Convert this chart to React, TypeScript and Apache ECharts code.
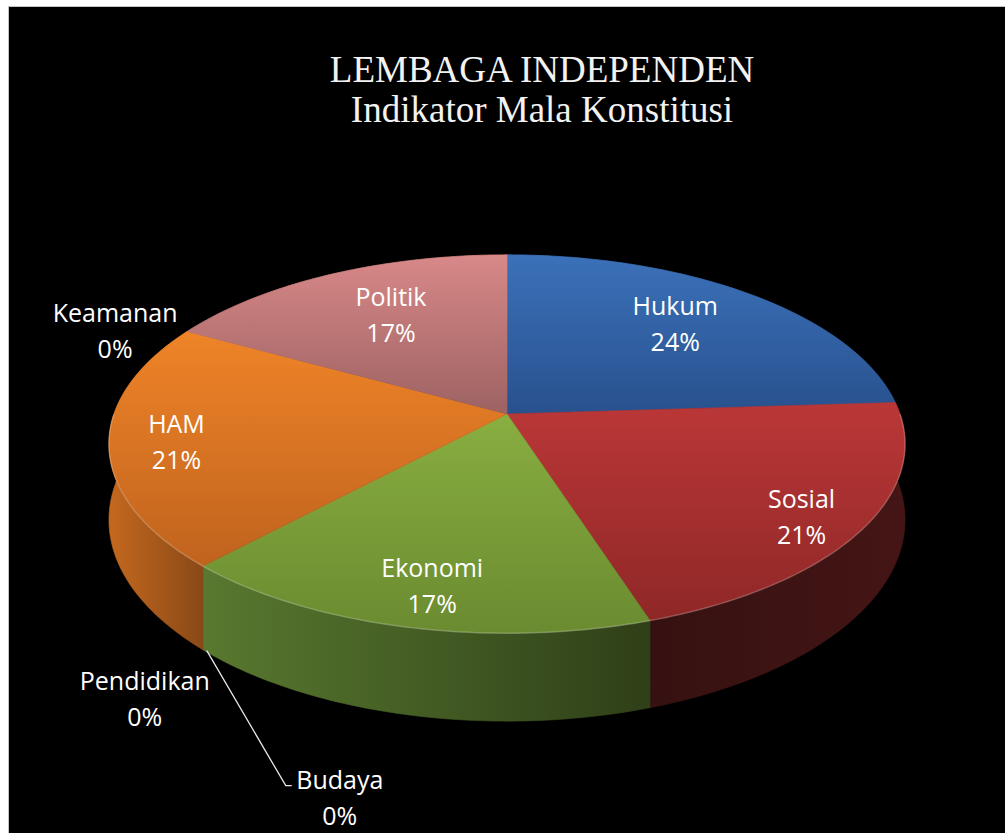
import React, { useEffect, useRef } from "react";
import * as echarts from "echarts";

// ---- data ----
const categories = ["Hukum", "Sosial", "Ekonomi", "Pendidikan", "Budaya", "HAM", "Keamanan", "Politik"];
const values = [24, 21, 17, 0, 0, 21, 0, 17];
const titleLines = ["LEMBAGA INDEPENDEN", "Indikator Mala Konstitusi"];

// ---- styles ----
const topPalette: string[][] = [
  ["#3b71b9", "#28518e"],
  ["#bb3737", "#8f2727"],
  ["#89ae41", "#6a8b30"],
  ["#888888", "#666666"],
  ["#888888", "#666666"],
  ["#ef8428", "#c0631e"],
  ["#888888", "#666666"],
  ["#d88888", "#9d6262"],
];
const wallPalette: string[][] = [
  ["#1f3c66", "#1a3354"],
  ["#361111", "#451515"],
  ["#58792f", "#2f3f18"],
  ["#555555", "#444444"],
  ["#555555", "#444444"],
  ["#c4681f", "#8a4916"],
  ["#555555", "#444444"],
  ["#6a4242", "#5a3636"],
];

const LABEL_FONT = "'Open Sans', 'Noto Sans', sans-serif";

// projection of the tilted disc (perspective)
const CX = 507;
const Y0 = 414;
const AX = 393;
const BY = -118.7;
const G = 0.1587;
const DEPTH = 74;

function proj(phi: number, r: number, drop: number): number[] {
  const u = r * Math.sin(phi);
  const v = r * Math.cos(phi);
  const d = 1 + G * v;
  return [CX + (AX * u) / d, (Y0 + BY * v + drop) / d];
}

function arc(a0: number, a1: number, r: number, drop: number): number[][] {
  const n = Math.max(2, Math.ceil((a1 - a0) / (Math.PI / 180)));
  const pts: number[][] = [];
  for (let i = 0; i <= n; i++) pts.push(proj(a0 + ((a1 - a0) * i) / n, r, drop));
  return pts;
}

export default function App() {
  const ref = useRef<HTMLDivElement>(null);

  useEffect(() => {
    if (!ref.current) return;
    const chart = echarts.init(ref.current, undefined, { renderer: "svg" });

    const total = values.reduce((a, b) => a + b, 0);
    const starts: number[] = [];
    let acc = 0;
    values.forEach((v) => {
      starts.push(acc);
      acc += v;
    });
    const ang = (x: number) => (x / total) * Math.PI * 2;

    const data = values.map((v, i) => ({ name: categories[i], value: v }));

    const wallItem = (params: any, api: any) => {
      const i = params.dataIndex;
      const val = api.value(0) as number;
      if (!val) return { type: "group", children: [] };
      const a0 = ang(starts[i]);
      const a1 = ang(starts[i] + val);
      const top = arc(a0, a1, 1, 0);
      const bot = arc(a0, a1, 1, DEPTH).reverse();
      const c = wallPalette[i];
      const grad = new echarts.graphic.LinearGradient(0, 0, 1, 0, [
        { offset: 0, color: c[0] },
        { offset: 1, color: c[1] },
      ]);
      return {
        type: "polygon",
        shape: { points: top.concat(bot) },
        style: { fill: grad, stroke: grad, lineWidth: 0.6 },
      };
    };

    const topItem = (params: any, api: any) => {
      const i = params.dataIndex;
      const val = api.value(0) as number;
      const name = categories[i];
      const pct = Math.round((val / total) * 100);
      const labelText = name + "\n" + pct + "%";
      const textStyle = {
        text: labelText,
        fill: "#ffffff",
        fontSize: 25,
        fontFamily: LABEL_FONT,
        align: "center",
        verticalAlign: "middle",
        lineHeight: 36,
      };
      const a0 = ang(starts[i]);
      if (!val) {
        let k = 0;
        for (let j = i - 1; j >= 0 && values[j] === 0 && starts[j] === starts[i]; j--) k++;
        const back = Math.cos(a0) >= 0;
        const children: any[] = [];
        if (back) {
          const p = proj(a0, 1, 0);
          children.push({ type: "text", x: p[0] - 72, y: p[1] - 1, z2: 100, style: textStyle });
        } else {
          const p = proj(a0, 1, DEPTH);
          if (k === 0) {
            children.push({ type: "text", x: p[0] - 58, y: p[1] + 48, z2: 100, style: textStyle });
          } else {
            children.push({
              type: "polyline",
              z2: 99,
              shape: {
                points: [
                  [p[0] + 4, p[1] + 1],
                  [p[0] + 83, p[1] + 136],
                  [p[0] + 89, p[1] + 136],
                ],
              },
              style: { stroke: "#e8e8e8", lineWidth: 1.3, fill: null },
            });
            children.push({ type: "text", x: p[0] + 137, y: p[1] + 147, z2: 100, style: textStyle });
          }
        }
        return { type: "group", children };
      }
      const a1 = ang(starts[i] + val);
      const pts = [[CX, Y0]].concat(arc(a0, a1, 1, 0));
      const c = topPalette[i];
      const grad = new echarts.graphic.LinearGradient(0, 0, 0, 1, [
        { offset: 0, color: c[0] },
        { offset: 1, color: c[1] },
      ]);
      const children: any[] = [
        {
          type: "polygon",
          shape: { points: pts },
          style: { fill: grad, stroke: grad, lineWidth: 0.6 },
        },
      ];
      const f0 = Math.max(a0, Math.PI / 2);
      const f1 = Math.min(a1, (Math.PI * 3) / 2);
      if (f1 > f0) {
        children.push({
          type: "polyline",
          z2: 10,
          shape: { points: arc(f0, f1, 1, 0) },
          style: { stroke: "rgba(255,255,255,0.22)", lineWidth: 1.5, fill: null },
        });
      }
      const mid = (a0 + a1) / 2;
      const r = 0.7 - 0.1 * Math.cos(mid) + 0.12 * Math.abs(Math.sin(mid));
      const lp = proj(mid - 0.04 * Math.sin(2 * mid), r, 0);
      children.push({ type: "text", x: lp[0], y: lp[1], z2: 100, style: textStyle });
      return { type: "group", children };
    };

    chart.setOption({
      animation: false,
      backgroundColor: "#ffffff",
      title: {
        text: titleLines.join("\n"),
        left: 537,
        top: 44,
        textAlign: "center",
        textStyle: {
          color: "#f2f2f2",
          fontFamily: "'Liberation Serif', 'Times New Roman', serif",
          fontSize: 37,
          fontWeight: "normal",
          lineHeight: 40,
        },
      },
      graphic: [
        {
          type: "rect",
          z: -10,
          shape: { x: 8.5, y: 6.5, width: 1000, height: 830 },
          style: { fill: "#000000", stroke: "#c4c4c4", lineWidth: 1 },
        },
      ],
      series: [
        {
          type: "custom",
          name: "walls",
          coordinateSystem: "none",
          z: 2,
          data,
          renderItem: wallItem,
          silent: true,
        },
        {
          type: "custom",
          name: "tops",
          coordinateSystem: "none",
          z: 3,
          data,
          renderItem: topItem,
          silent: true,
        },
      ],
    });

    return () => chart.dispose();
  }, []);

  return (
    <div
      ref={ref}
      style={{ position: "fixed", left: 0, top: 0, width: 1005, height: 833 }}
    />
  );
}
